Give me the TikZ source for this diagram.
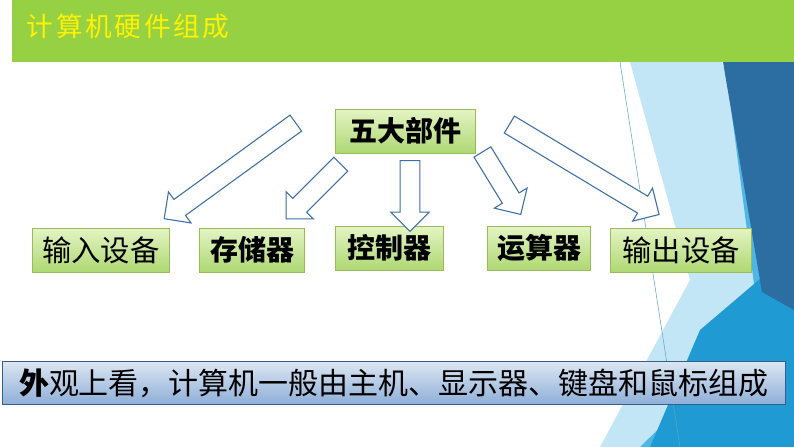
\documentclass[tikz,border=0pt]{standalone}
\usepackage{fontspec}
\usepackage{tikz}
\usetikzlibrary{shapes.arrows}
\newfontfamily\cjk{Noto Sans CJK SC}
\definecolor{barG}{HTML}{96D043}
\definecolor{boxTop}{HTML}{E4F4C4}
\definecolor{boxBot}{HTML}{AED873}
\definecolor{boxLine}{HTML}{9BBB59}
\definecolor{arrLine}{HTML}{3C6EA8}
\definecolor{bgLight}{HTML}{C2E6F6}
\definecolor{bgMid}{HTML}{4DB6E4}
\definecolor{bgDeep}{HTML}{1F9AD2}
\definecolor{bgDark}{HTML}{2C6DA2}
\definecolor{noteTop}{HTML}{DCE6F2}
\definecolor{noteBot}{HTML}{8EAFD8}
\definecolor{noteLine}{HTML}{385D8A}
\tikzset{
  part/.style={draw=boxLine,top color=boxTop,bottom color=boxBot,font=\cjk\fontsize{22}{22}\selectfont,inner sep=0pt,minimum height=33pt},
  partb/.style={part,font=\cjk\bfseries\fontsize{21}{21}\selectfont},
  hollow/.style={draw=arrLine,fill=white,thick,shape=single arrow,inner sep=7pt,single arrow head extend=7pt}
}
\begin{document}
\begin{tikzpicture}[x=0.75pt,y=0.75pt,yscale=-1,xscale=1]
\useasboundingbox (0,0) rectangle (794,447);
% background
\fill[white] (0,0) rectangle (794,447);
\fill[bgLight] (630,62) -- (722,62) -- (794,300) -- (794,447) -- (600,447) -- (690,280) -- cycle;
\fill[bgMid] (725,62) -- (794,62) -- (794,447) -- (640,447) -- (760,330) -- cycle;
\fill[bgDeep] (700,330) -- (794,250) -- (794,447) -- (650,447) -- cycle;
\fill[bgDark] (723,62) -- (794,62) -- (794,310) -- (762,292) -- cycle;
\draw[bgMid!70!gray,thin] (620,62) -- (680,447);
% title
\fill[barG] (12,0) rectangle (794,62);
\node[anchor=west,text=yellow,font=\cjk\fontsize{20}{20}\selectfont] (title) at (22,26) {计\kern2pt 算\kern2pt 机\kern2pt 硬\kern2pt 件\kern2pt 组\kern2pt 成};
% parts
\node[partb,minimum width=105pt] (wuda) at (405,131) {五大部件};
\node[part,minimum width=103pt] (shuru) at (101,250) {输入设备};
\node[partb,minimum width=79pt] (cunchu) at (252,250) {存储器};
\node[partb,minimum width=81pt] (kongzhi) at (389,248) {控制器};
\node[partb,minimum width=77pt] (yunsuan) at (539,248) {运算器};
\node[part,minimum width=106pt] (shuchu) at (681,250) {输出设备};
% arrows
\node[hollow,minimum height=122pt,rotate=216] (a1) at (234,168) {};
\node[hollow,minimum height=58pt,rotate=225] (a2) at (317,188) {};
\node[hollow,minimum height=53pt,rotate=270] (a3) at (410,191) {};
\node[hollow,minimum height=55pt,rotate=301.5] (a4) at (499,179) {};
\node[hollow,minimum height=131pt,rotate=329] (a5) at (580,167) {};
% bottom line
\node[draw=noteLine,top color=noteTop,bottom color=noteBot,minimum width=587pt,minimum height=32pt,inner sep=0pt,font=\cjk\fontsize{22.5}{22.5}\selectfont] (note) at (394,383) {{\bfseries 外}观上看，计算机一般由主机、显示器、键盘和鼠标组成};
\end{tikzpicture}
\end{document}
